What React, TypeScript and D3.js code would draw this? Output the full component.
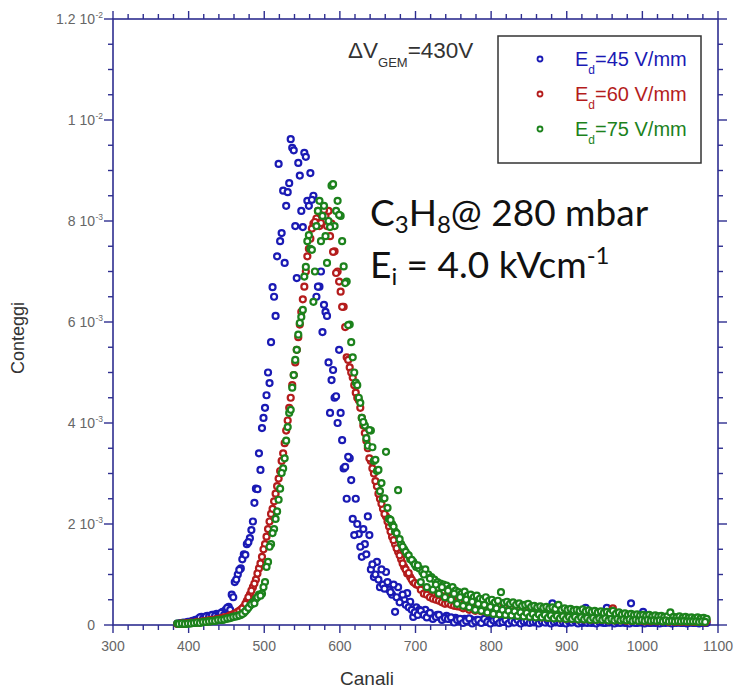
import React from "react";
import * as d3 from "d3";

// channel positions: set A every 4 channels from 385, set B offset by 2 (387..1083)
const channelsA: number[] = d3.range(385, 1086, 4);
const channelsB: number[] = d3.range(387, 1084, 4);

// values in units of 1e-3 (Conteggi, normalised)
const blue45a: number[] = [
  0.03, 0.04, 0.05, 0.05, 0.06, 0.08, 0.1, 0.12, 0.16, 0.15,
  0.18, 0.17, 0.2, 0.22, 0.18, 0.26, 0.3, 0.36, 0.6, 0.85,
  1.0, 1.12, 1.4, 1.6, 1.72, 2.05, 2.7, 3.4, 3.9, 4.3,
  5.0, 5.6, 6.5, 7.3, 7.6, 8.6, 8.3, 8.75, 9.45, 7.9,
  9.15, 8.2, 9.35, 8.4, 8.95, 8.5, 6.5, 6.7, 5.8, 6.2,
  5.2, 4.85, 4.5, 4.0, 4.2, 3.1, 2.5, 3.3, 2.1, 2.5,
  1.8, 1.35, 1.6, 2.15, 1.1, 0.95, 1.25, 0.75, 0.8, 1.05,
  0.7, 0.6, 0.26, 0.75, 0.55, 0.5, 0.63, 0.46, 0.16, 0.35,
  0.3, 0.25, 0.3, 0.22, 0.16, 0.18, 0.2, 0.15, 0.12, 0.18,
  0.12, 0.1, 0.14, 0.08, 0.1, 0.12, 0.09, 0.11, 0.08, 0.1,
  0.07, 0.09, 0.06, 0.1, 0.08, 0.05, 0.07, 0.09, 0.06, 0.08,
  0.06, 0.05, 0.07, 0.06, 0.08, 0.05, 0.06, 0.07, 0.05, 0.06,
  0.05, 0.07, 0.05, 0.06, 0.43, 0.05, 0.06, 0.04, 0.06, 0.05,
  0.05, 0.06, 0.05, 0.06, 0.04, 0.34, 0.06, 0.04, 0.05, 0.06,
  0.05, 0.04, 0.34, 0.05, 0.06, 0.04, 0.05, 0.06, 0.04, 0.05,
  0.43, 0.05, 0.04, 0.05, 0.26, 0.06, 0.04, 0.05, 0.04, 0.05,
  0.04, 0.05, 0.06, 0.04, 0.05, 0.04, 0.05, 0.04, 0.05, 0.04,
  0.05, 0.04, 0.05, 0.04, 0.05, 0.04,
];
const blue45b: number[] = [
  0.02, 0.04, 0.03, 0.06, 0.05, 0.07, 0.09, 0.15, 0.12, 0.17,
  0.16, 0.2, 0.18, 0.16, 0.24, 0.2, 0.34, 0.3, 0.55, 0.9,
  1.09, 1.3, 1.39, 1.64, 1.88, 2.42, 2.69, 3.07, 4.1, 4.55,
  4.79, 6.69, 6.12, 9.13, 7.76, 7.17, 8.57, 9.62, 9.4, 6.87,
  8.9, 7.88, 9.27, 8.3, 8.42, 7.9, 6.7, 7.0, 6.34, 6.12,
  4.2, 5.05, 4.53, 5.45, 3.66, 3.13, 3.33, 2.87, 1.78, 2.0,
  1.55, 1.9, 1.4, 1.78, 1.2, 1.0, 0.9, 1.1, 0.72, 0.85,
  0.65, 0.8, 0.55, 0.45, 0.6, 0.4, 0.35, 0.3, 0.25, 0.2,
  0.28, 0.2, 0.15, 0.24, 0.12, 0.16, 0.2, 0.1, 0.14, 0.12,
  0.15, 0.05, 0.1, 0.12, 0.04, 0.08, 0.13, 0.03, 0.07, 0.1,
  0.04, 0.12, 0.06, 0.03, 0.09, 0.11, 0.04, 0.06, 0.1, 0.03,
  0.08, 0.05, 0.1, 0.03, 0.07, 0.09, 0.04, 0.06, 0.08, 0.03,
  0.07, 0.05, 0.09, 0.03, 0.06, 0.08, 0.04, 0.06, 0.03, 0.07,
  0.05, 0.08, 0.03, 0.06, 0.09, 0.04, 0.05, 0.07, 0.03, 0.06,
  0.08, 0.04, 0.05, 0.07, 0.03, 0.06, 0.04, 0.08, 0.05, 0.03,
  0.06, 0.04, 0.07, 0.05, 0.03, 0.06, 0.04, 0.05, 0.07, 0.03,
  0.05, 0.04, 0.06, 0.03, 0.05, 0.07, 0.04, 0.05, 0.03, 0.06,
  0.04, 0.05, 0.03, 0.05, 0.04,
];

const red60a: number[] = [
  0.02, 0.03, 0.02, 0.03, 0.04, 0.04, 0.05, 0.05, 0.06, 0.07,
  0.08, 0.09, 0.1, 0.11, 0.12, 0.14, 0.15, 0.17, 0.2, 0.22,
  0.26, 0.3, 0.36, 0.48, 0.6, 0.75, 0.9, 1.12, 1.35, 1.6,
  1.9, 2.2, 2.45, 2.75, 3.05, 3.4, 3.85, 4.3, 4.75, 5.2,
  5.7, 6.2, 6.7, 7.3, 7.65, 7.95, 8.05, 7.9, 8.15, 8.1,
  8.2, 7.95, 7.4, 7.0, 6.6, 6.3, 5.3, 5.1, 4.9, 4.6,
  4.45, 4.1, 3.8, 3.5, 3.25, 3.0, 2.75, 2.5, 2.3, 2.15,
  1.95, 1.75, 1.6, 1.45, 1.3, 1.15, 1.02, 0.95, 0.85, 0.8,
  0.78, 0.72, 0.7, 0.66, 0.64, 0.6, 0.62, 0.58, 0.56, 0.55,
  0.53, 0.55, 0.5, 0.52, 0.48, 0.5, 0.46, 0.48, 0.45, 0.44,
  0.43, 0.45, 0.42, 0.4, 0.43, 0.39, 0.41, 0.38, 0.4, 0.37,
  0.38, 0.36, 0.37, 0.35, 0.36, 0.34, 0.35, 0.33, 0.34, 0.32,
  0.33, 0.31, 0.32, 0.3, 0.31, 0.29, 0.3, 0.28, 0.29, 0.27,
  0.28, 0.26, 0.27, 0.25, 0.26, 0.24, 0.25, 0.23, 0.24, 0.22,
  0.23, 0.21, 0.22, 0.2, 0.33, 0.21, 0.19, 0.2, 0.18, 0.19,
  0.17, 0.18, 0.16, 0.17, 0.15, 0.16, 0.14, 0.15, 0.13, 0.14,
  0.13, 0.12, 0.13, 0.11, 0.12, 0.1, 0.11, 0.1, 0.11, 0.09,
  0.1, 0.09, 0.1, 0.08, 0.09, 0.08,
];
const red60b: number[] = [
  0.02, 0.03, 0.03, 0.04, 0.05, 0.04, 0.06, 0.06, 0.07, 0.08,
  0.09, 0.1, 0.1, 0.12, 0.13, 0.15, 0.16, 0.19, 0.21, 0.24,
  0.28, 0.33, 0.42, 0.55, 0.68, 0.82, 1.02, 1.22, 1.5, 1.75,
  2.05, 2.3, 2.6, 2.9, 3.25, 3.6, 4.05, 4.5, 4.95, 5.45,
  5.95, 6.45, 7.0, 7.45, 7.85, 7.98, 8.2, 7.96, 8.22, 7.9,
  7.7, 7.39, 6.97, 6.8, 6.3, 5.9, 5.25, 5.0, 4.75, 4.5,
  4.3, 3.95, 3.65, 3.3, 3.1, 2.85, 2.6, 2.4, 2.2, 2.05,
  1.85, 1.68, 1.52, 1.38, 1.22, 1.1, 1.03, 0.9, 0.83, 0.8,
  0.7, 0.62, 0.6, 0.55, 0.52, 0.5, 0.48, 0.45, 0.42, 0.43,
  0.4, 0.38, 0.37, 0.36, 0.33, 0.35, 0.3, 0.33, 0.28, 0.31,
  0.27, 0.3, 0.25, 0.28, 0.24, 0.27, 0.22, 0.26, 0.21, 0.25,
  0.2, 0.24, 0.19, 0.23, 0.18, 0.22, 0.17, 0.21, 0.16, 0.2,
  0.15, 0.19, 0.14, 0.18, 0.14, 0.17, 0.13, 0.17, 0.12, 0.16,
  0.12, 0.15, 0.11, 0.15, 0.11, 0.14, 0.1, 0.14, 0.1, 0.13,
  0.1, 0.12, 0.09, 0.12, 0.09, 0.11, 0.09, 0.11, 0.08, 0.1,
  0.08, 0.1, 0.08, 0.09, 0.07, 0.09, 0.07, 0.09, 0.07, 0.08,
  0.07, 0.08, 0.06, 0.08, 0.06, 0.07, 0.06, 0.07, 0.06, 0.07,
  0.06, 0.06, 0.06, 0.06, 0.05,
];

const green75a: number[] = [
  0.03, 0.02, 0.03, 0.02, 0.03, 0.04, 0.04, 0.05, 0.05, 0.06,
  0.07, 0.07, 0.08, 0.09, 0.1, 0.1, 0.12, 0.13, 0.15, 0.17,
  0.18, 0.2, 0.24, 0.3, 0.38, 0.45, 0.52, 0.6, 0.62, 0.85,
  1.25, 1.6, 1.9, 2.25, 2.7, 3.1, 3.65, 4.2, 4.7, 5.25,
  5.75, 6.1, 6.9, 7.6, 7.45, 6.4, 7.9, 8.4, 8.1, 7.7,
  8.0, 8.7, 7.9, 8.4, 8.1, 7.1, 6.8, 5.95, 5.3, 4.8,
  4.5, 4.1, 3.95, 3.55, 3.85, 3.25, 3.05, 2.65, 2.5, 3.43,
  2.1, 2.0, 1.85, 2.67, 1.6, 1.5, 1.4, 1.3, 1.25, 1.15,
  1.12, 1.05, 1.1, 1.0, 0.95, 0.9, 0.85, 0.82, 0.8, 0.78,
  0.72, 0.75, 0.68, 0.65, 0.62, 0.66, 0.58, 0.6, 0.55, 0.58,
  0.52, 0.5, 0.55, 0.48, 0.5, 0.45, 0.48, 0.65, 0.44, 0.46,
  0.42, 0.45, 0.4, 0.43, 0.38, 0.4, 0.42, 0.36, 0.38, 0.35,
  0.37, 0.34, 0.36, 0.33, 0.35, 0.32, 0.4, 0.3, 0.33, 0.3,
  0.32, 0.29, 0.3, 0.28, 0.31, 0.27, 0.29, 0.26, 0.28, 0.25,
  0.27, 0.24, 0.26, 0.23, 0.28, 0.22, 0.25, 0.21, 0.23, 0.2,
  0.22, 0.2, 0.21, 0.19, 0.2, 0.18, 0.2, 0.17, 0.19, 0.17,
  0.18, 0.16, 0.17, 0.25, 0.16, 0.15, 0.17, 0.14, 0.16, 0.14,
  0.15, 0.13, 0.15, 0.13, 0.14, 0.12,
];
const green75b: number[] = [
  0.02, 0.03, 0.02, 0.03, 0.03, 0.04, 0.05, 0.04, 0.06, 0.06,
  0.07, 0.08, 0.08, 0.1, 0.1, 0.11, 0.13, 0.14, 0.16, 0.17,
  0.19, 0.22, 0.27, 0.34, 0.41, 0.43, 0.55, 0.58, 0.75, 1.15,
  1.55, 1.82, 2.1, 2.48, 3.01, 3.3, 3.92, 4.26, 4.95, 5.45,
  5.98, 6.24, 7.09, 7.72, 7.43, 7.0, 8.2, 7.6, 8.3, 7.17,
  7.88, 8.73, 8.2, 8.12, 7.6, 6.77, 5.94, 5.6, 5.0, 4.75,
  4.4, 4.02, 3.7, 3.86, 3.52, 3.27, 3.07, 2.81, 2.51, 2.32,
  2.08, 1.95, 1.82, 1.7, 1.55, 1.45, 1.38, 1.29, 1.2, 1.18,
  0.85, 1.0, 0.75, 0.92, 0.7, 0.8, 0.62, 0.75, 0.55, 0.68,
  0.5, 0.62, 0.42, 0.55, 0.38, 0.5, 0.35, 0.46, 0.3, 0.42,
  0.28, 0.4, 0.25, 0.36, 0.22, 0.33, 0.21, 0.3, 0.2, 0.28,
  0.19, 0.27, 0.18, 0.25, 0.17, 0.24, 0.16, 0.22, 0.15, 0.21,
  0.15, 0.2, 0.14, 0.19, 0.13, 0.18, 0.13, 0.17, 0.12, 0.16,
  0.12, 0.16, 0.11, 0.15, 0.11, 0.14, 0.1, 0.14, 0.1, 0.13,
  0.1, 0.13, 0.09, 0.12, 0.09, 0.12, 0.09, 0.11, 0.09, 0.11,
  0.08, 0.1, 0.08, 0.1, 0.08, 0.1, 0.08, 0.09, 0.08, 0.09,
  0.07, 0.09, 0.07, 0.08, 0.07, 0.08, 0.07, 0.08, 0.07, 0.07,
  0.07, 0.07, 0.06, 0.07, 0.06,
];

const seriesNames = ["=45 V/mm", "=60 V/mm", "=75 V/mm"];
const seriesColors = ["#1a1ab4", "#b41c1c", "#1c821c"];

const xTickValues = [300, 400, 500, 600, 700, 800, 900, 1000, 1100];
const yTickValues = [0, 0.002, 0.004, 0.006, 0.008, 0.01, 0.012];
const yTickMant = ["0", "2 10", "4 10", "6 10", "8 10", "1 10", "1.2 10"];
const yTickExp = ["", "-3", "-3", "-3", "-3", "-2", "-2"];

const W = 737;
const H = 690;
const M = { left: 113, right: 718, top: 19, bottom: 625 };

export default function App() {
  const x = d3.scaleLinear().domain([300, 1100]).range([M.left, M.right]);
  const y = d3.scaleLinear().domain([0, 0.012]).range([M.bottom, M.top]);
  const xMinor = d3.range(300, 1101, 20);
  const yMinor = d3.range(0, 0.01201, 0.0005);
  const axisColor = "#2e2e90";
  const tickFont = "'Liberation Sans', Arial, sans-serif";
  const series = [
    [blue45a, blue45b],
    [red60a, red60b],
    [green75a, green75b],
  ];

  return (
    <svg
      width={W}
      height={H}
      style={{ position: "absolute", left: 0, top: 0, background: "#fff" }}
      fontFamily={tickFont}
    >
      <rect x={0} y={0} width={W} height={H} fill="#fff" />
      <rect
        x={M.left}
        y={M.top}
        width={M.right - M.left}
        height={M.bottom - M.top}
        fill="none"
        stroke={axisColor}
        strokeWidth={1.6}
      />
      {xMinor.map((v) => {
        const major = v % 100 === 0;
        const L = major ? 8 : 5;
        return (
          <g key={"xt" + v} stroke={axisColor} strokeWidth={1.4}>
            <line x1={x(v)} x2={x(v)} y1={M.bottom} y2={M.bottom + L} />
            <line x1={x(v)} x2={x(v)} y1={M.top} y2={M.top - L} />
          </g>
        );
      })}
      {yMinor.map((v, i) => {
        const major = i % 4 === 0;
        const L = major ? 9 : 5;
        return (
          <g key={"yt" + i} stroke={axisColor} strokeWidth={1.4}>
            <line x1={M.left} x2={M.left - L} y1={y(v)} y2={y(v)} />
            <line x1={M.right} x2={M.right + L} y1={y(v)} y2={y(v)} />
          </g>
        );
      })}
      {xTickValues.map((v) => (
        <text key={"xl" + v} x={x(v)} y={651} textAnchor="middle" fontSize={14} fill="#666">
          {v}
        </text>
      ))}
      {yTickValues.map((v, i) => (
        <g key={"yl" + i} fill="#666">
          <text x={95} y={y(v) + 5} textAnchor="end" fontSize={14} style={{ whiteSpace: "pre" }}>
            {yTickMant[i]}
          </text>
          {yTickExp[i] && (
            <text x={95.5} y={y(v) - 1} fontSize={8.5}>
              {yTickExp[i]}
            </text>
          )}
        </g>
      ))}
      <text x={367} y={685} textAnchor="middle" fontSize={19} fill="#333">
        Canali
      </text>
      <text transform={`translate(24,338) rotate(-90)`} textAnchor="middle" fontSize={18} fill="#333">
        Conteggi
      </text>
      {series.map((sets, si) => (
        <g key={"s" + si} stroke={seriesColors[si]} strokeWidth={2.2} fill="#fff">
          {sets.map((vals, k) =>
            vals.map((v, i) => (
              <circle
                key={k + "-" + i}
                cx={x((k === 0 ? channelsA : channelsB)[i])}
                cy={y(v * 1e-3)}
                r={3}
              />
            ))
          )}
        </g>
      ))}
      <text x={348} y={58} fontSize={22.5} fill="#333">
        ΔV<tspan fontSize={13} dy={9}>GEM</tspan>
        <tspan dy={-9}>=430V</tspan>
      </text>
      <rect x={498} y={36} width={203} height={127} fill="#fff" stroke="#333" strokeWidth={1.5} />
      {seriesNames.map((n, i) => (
        <g key={"lg" + i}>
          <circle cx={540} cy={59 + i * 35} r={2.5} fill="#fff" stroke={seriesColors[i]} strokeWidth={1.8} />
          <text x={575} y={66 + i * 35} fontSize={20} fill={seriesColors[i]}>
            E<tspan fontSize={12} dy={8}>d</tspan>
            <tspan dy={-8}>{n}</tspan>
          </text>
        </g>
      ))}
      <g fontFamily="Lato, 'Open Sans', sans-serif" fill="#111" style={{ whiteSpace: "pre" }}>
        <text x={370} y={226} fontSize={37}>
          C<tspan fontSize={24} dy={7}>3</tspan>
          <tspan dy={-7}>H</tspan>
          <tspan fontSize={24} dy={7}>8</tspan>
          <tspan dy={-7}>@ 280 mbar</tspan>
        </text>
        <text x={370} y={278} fontSize={37}>
          E<tspan fontSize={24} dy={7}>i</tspan>
          <tspan dy={-7}> = 4.0 kVcm</tspan>
          <tspan fontSize={24} dy={-14}>-1</tspan>
        </text>
      </g>
    </svg>
  );
}
